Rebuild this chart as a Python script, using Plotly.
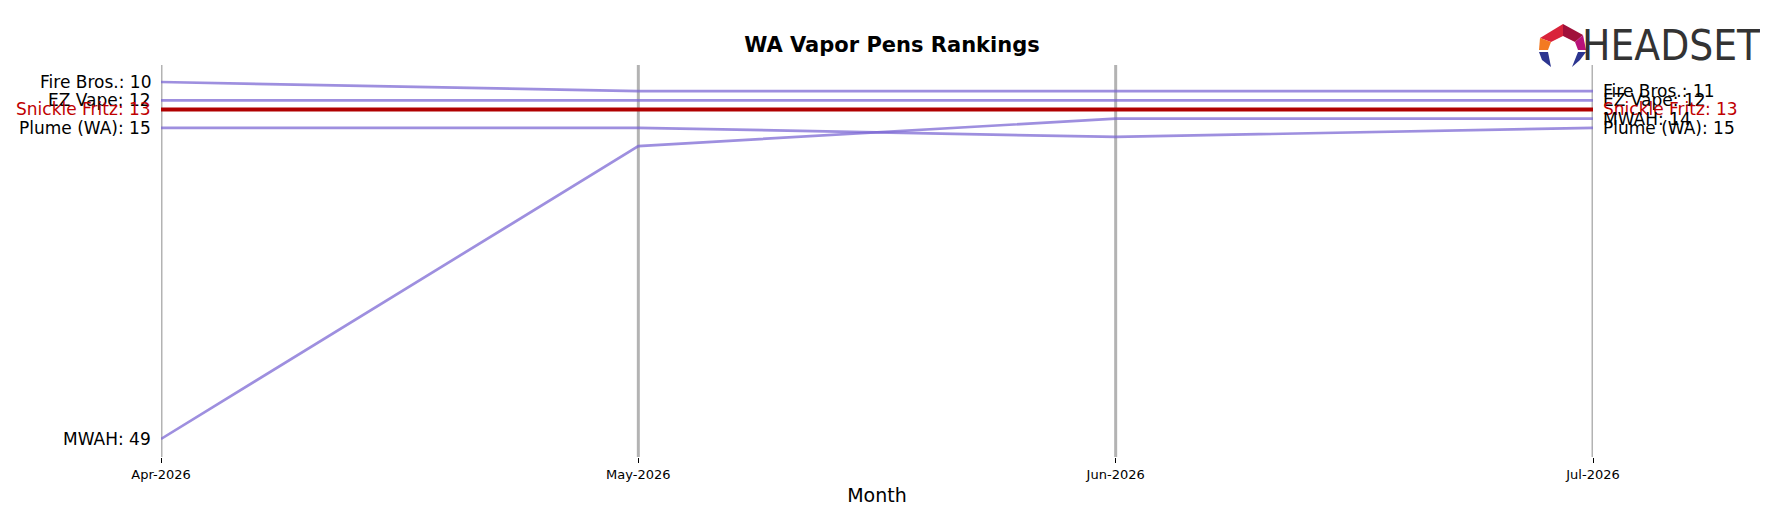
import plotly.graph_objects as go

months = ["Apr-2026", "May-2026", "Jun-2026", "Jul-2026"]
brands = ["Fire Bros.", "EZ Vape", "Snickle Fritz", "Plume (WA)", "MWAH"]
ranks = {
    "Fire Bros.": [10, 11, 11, 11],
    "EZ Vape": [12, 12, 12, 12],
    "Snickle Fritz": [13, 13, 13, 13],
    "Plume (WA)": [15, 15, 16, 15],
    "MWAH": [49, 17, 14, 14],
}
highlight = "Snickle Fritz"

W, H = 1768, 507
L, R, T, B = 153, 183, 57, 58

fig = go.Figure()
for b in brands:
    hl = b == highlight
    fig.add_trace(go.Scatter(x=months, y=ranks[b], mode="lines",
                             line=dict(color="#b00000" if hl else "rgba(120,100,210,0.72)",
                                       width=4 if hl else 2.7),
                             showlegend=False, hoverinfo="skip"))
for b in brands:
    hl = b == highlight
    col = "#c00000" if hl else "black"
    fig.add_annotation(x=months[0], y=ranks[b][0], text=f"{b}: {ranks[b][0]}", xanchor="right",
                       xshift=-8, showarrow=False, font=dict(size=17, color=col))
    fig.add_annotation(x=months[-1], y=ranks[b][-1], text=f"{b}: {ranks[b][-1]}", xanchor="left",
                       xshift=8, showarrow=False, font=dict(size=17, color=col))
for m in months:
    fig.add_shape(type="line", x0=m, x1=m, y0=0, y1=1, yref="paper",
                  line=dict(color="rgba(160,160,160,0.8)", width=3), layer="below")

def px(x):
    return (x - L) / (W - L - R)
def py(y):
    return 1 - (y - T) / (H - T - B)

# logo
logo = [
    ([(1532, 30), (1555, 16), (1555, 28), (1543, 34)], "#d9233a"),
    ([(1555, 16), (1575, 27), (1567, 34), (1555, 28)], "#a0103a"),
    ([(1575, 27), (1578, 42), (1570, 42), (1567, 34)], "#b8127a"),
    ([(1532, 30), (1543, 34), (1540, 42), (1531, 42)], "#f37a22"),
    ([(1531, 44), (1540, 44), (1543, 59), (1534, 52)], "#2c3590"),
    ([(1570, 44), (1578, 44), (1572, 52), (1564, 59)], "#2c3590"),
]
for pts, c in logo:
    path = "M " + " L ".join(f"{px(x)},{py(y)}" for x, y in pts) + " Z"
    fig.add_shape(type="path", xref="x domain", yref="y domain", path=path,
                  fillcolor=c, line=dict(width=0))
fig.add_annotation(x=px(1755), y=py(38), xref="paper", yref="paper", text="HEADSET",
                   xanchor="right", yanchor="middle", showarrow=False,
                   font=dict(size=42, color="#333333", family="DejaVu Sans Condensed"))

fig.update_layout(
    width=W, height=H, plot_bgcolor="white", paper_bgcolor="white",
    margin=dict(l=L, r=R, t=T, b=B),
    font=dict(family="DejaVu Sans", color="black"),
    title=dict(text="<b>WA Vapor Pens Rankings</b>", x=0.5, xanchor="center", y=0.927,
               yanchor="middle", font=dict(size=21, color="black")),
    xaxis=dict(title=dict(text="Month", font=dict(size=19), standoff=8),
               showgrid=False, ticks="outside", ticklen=5, tickcolor="black",
               tickfont=dict(size=13, color="black"), range=[0, 3], type="category"),
    yaxis=dict(range=[50.97, 8.14], showticklabels=False, showgrid=False, zeroline=False),
)
fig.write_html("out.html")
